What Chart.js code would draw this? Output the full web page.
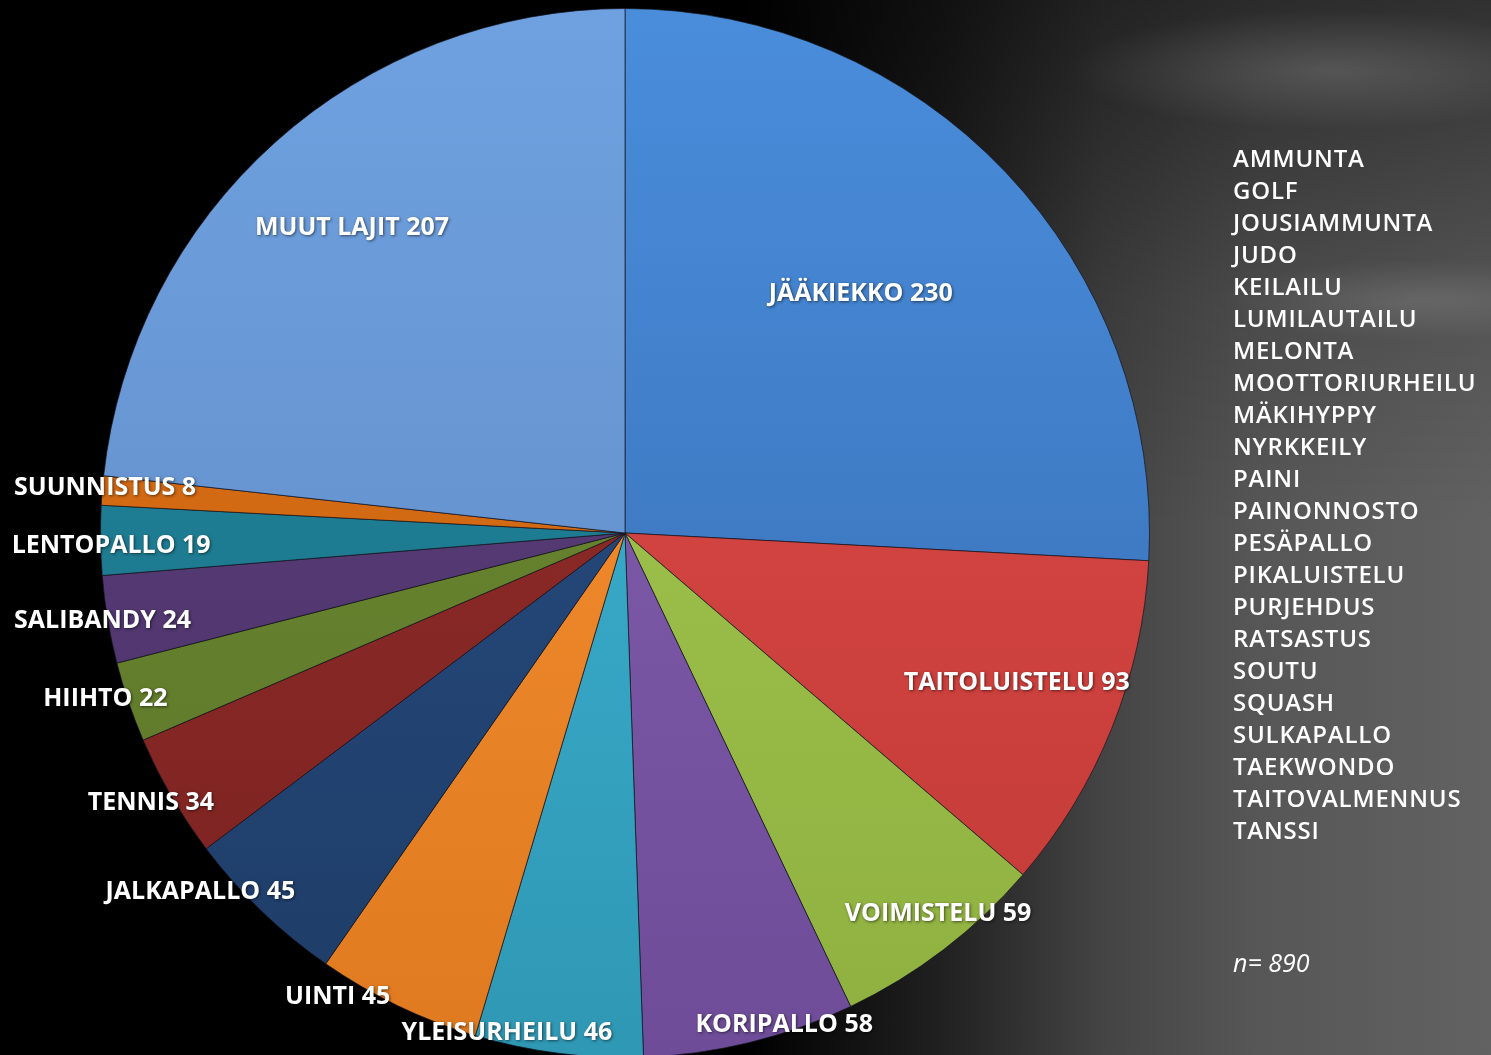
<!DOCTYPE html>
<html>
<head>
<meta charset="utf-8">
<script src="https://cdn.jsdelivr.net/npm/chart.js@4"></script>
<style>
	html, body {
		margin: 0;
		width: 1491px;
		height: 1055px;
		overflow: hidden;
	}
	body {
		position: relative;
		background:
			radial-gradient(ellipse 260px 60px at 1330px 70px, rgba(255,255,255,0.16), rgba(255,255,255,0)),
			radial-gradient(ellipse 200px 40px at 1420px 300px, rgba(255,255,255,0.12), rgba(255,255,255,0)),
			linear-gradient(to bottom, rgba(0,0,0,0.5) 0%, rgba(0,0,0,0.15) 28%, rgba(0,0,0,0) 50%),
			linear-gradient(to right, #000 0%, #000 50%, #202020 63%, #444 74%, #565656 84%, #626262 100%);
		font-family: "Open Sans", sans-serif;
	}
	#wrap {
		position: absolute;
		left: 0;
		top: 0;
		width: 1491px;
		height: 1070px;
	}
	#others {
		position: absolute;
		left: 1233px;
		top: 142px;
		color: #fff;
		font-weight: 600;
		font-size: 24px;
		line-height: 32px;
		letter-spacing: 0.8px;
	}
	#n {
		position: absolute;
		left: 1233px;
		top: 945px;
		color: #fff;
		font-style: italic;
		font-size: 25px;
	}
</style>
</head>
<body>
<div id="wrap"><canvas id="pieChart"></canvas></div>
<div id="others"></div>
<div id="n">n= 890</div>

<script>
// Sports and counts (clockwise from 12 o'clock)
let sports = ['JÄÄKIEKKO', 'TAITOLUISTELU', 'VOIMISTELU', 'KORIPALLO', 'YLEISURHEILU', 'UINTI',
	'JALKAPALLO', 'TENNIS', 'HIIHTO', 'SALIBANDY', 'LENTOPALLO', 'SUUNNISTUS', 'MUUT LAJIT'];
let counts = [230, 93, 59, 58, 46, 45, 45, 34, 22, 24, 19, 8, 207];

// Sports grouped under "muut lajit"
let otherSports = ['AMMUNTA', 'GOLF', 'JOUSIAMMUNTA', 'JUDO', 'KEILAILU', 'LUMILAUTAILU', 'MELONTA',
	'MOOTTORIURHEILU', 'MÄKIHYPPY', 'NYRKKEILY', 'PAINI', 'PAINONNOSTO', 'PESÄPALLO', 'PIKALUISTELU',
	'PURJEHDUS', 'RATSASTUS', 'SOUTU', 'SQUASH', 'SULKAPALLO', 'TAEKWONDO', 'TAITOVALMENNUS', 'TANSSI'];

// Slice colours, light (top) and dark (bottom)
let lightColors = ['#4a8ddb', '#e04c48', '#a6cc52', '#8863b4', '#40b8da', '#fa9434',
	'#2a528a', '#98302d', '#728f34', '#5e4280', '#228aa2', '#e0741a', '#6fa1e0'];
let darkColors = ['#356ab0', '#c13a37', '#8fb040', '#6e4c98', '#2f98b4', '#e07a20',
	'#1e3c66', '#7a2220', '#5a7428', '#4a3066', '#1a6e82', '#c45e0c', '#5d88c2'];

// Label placement: radius fraction and angle shift (deg) from the slice middle
let labelRadius = [0.64, 0.80, 0.94, 0.985, 0.98, 1.04, 1.06, 1.04, 1.04, 1.01, 0.98, 0.995, 0.78];
let labelShift = [-1.9, -0.9, -2, -4.2, 6, 6.1, 5.9, 0.5, 1.1, 0, -0.6, 0.3, 0];

document.querySelector('#others').innerHTML = otherSports.join('<br>');

// Vertical gradient per slice
function sliceColor(ctx) {
	let area = ctx.chart.chartArea;
	if (!area) return darkColors[ctx.dataIndex];
	let g = ctx.chart.ctx.createLinearGradient(0, area.top, 0, area.bottom);
	g.addColorStop(0, lightColors[ctx.dataIndex]);
	g.addColorStop(1, darkColors[ctx.dataIndex]);
	return g;
}

// Draws "NAME value" labels
let labelPlugin = {
	id: 'sliceLabels',
	afterDatasetsDraw(chart) {
		let ctx = chart.ctx;
		let arcs = chart.getDatasetMeta(0).data;
		ctx.save();
		ctx.font = 'bold 25px "Open Sans"';
		ctx.fillStyle = '#fff';
		ctx.textAlign = 'center';
		ctx.textBaseline = 'middle';
		ctx.shadowColor = 'rgba(0,0,0,0.55)';
		ctx.shadowBlur = 3;
		ctx.shadowOffsetX = 1;
		ctx.shadowOffsetY = 1;
		arcs.forEach((arc, i) => {
			let mid = (arc.startAngle + arc.endAngle) / 2 + labelShift[i] * Math.PI / 180;
			let r = arc.outerRadius * labelRadius[i];
			ctx.fillText(sports[i] + ' ' + counts[i], arc.x + Math.cos(mid) * r, arc.y + Math.sin(mid) * r);
		});
		ctx.restore();
	}
};

let chart = new Chart(document.querySelector('#pieChart'), {
	type: 'pie',
	data: {
		labels: sports,
		datasets: [{
			data: counts,
			backgroundColor: sliceColor,
			borderColor: 'rgba(20,20,30,0.7)',
			borderWidth: 1
		}]
	},
	options: {
		responsive: true,
		maintainAspectRatio: false,
		animation: false,
		layout: { padding: { left: 100, right: 341, top: 8, bottom: 12 } },
		plugins: {
			legend: { display: false },
			tooltip: { enabled: false }
		}
	},
	plugins: [labelPlugin]
});
</script>
</body>
</html>
